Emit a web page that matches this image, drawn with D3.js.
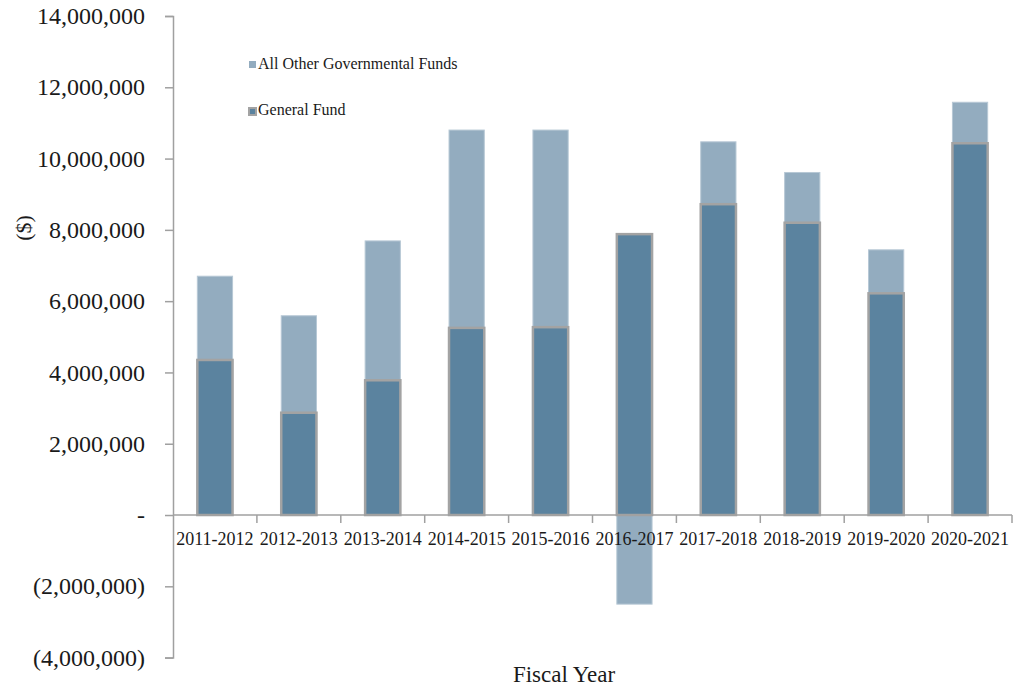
<!DOCTYPE html>
<html>
<head>
<meta charset="utf-8">
<script src="https://cdn.jsdelivr.net/npm/d3@7"></script>
<style>
  html, body { margin: 0; padding: 0; background: #fff; }
  svg { display: block; font-family: "Liberation Serif", "Times New Roman", serif; }
</style>
</head>
<body>
<svg id="chart" width="1015" height="689"></svg>
<script>
// Fiscal years on the x axis
const years = ["2011-2012", "2012-2013", "2013-2014", "2014-2015", "2015-2016",
               "2016-2017", "2017-2018", "2018-2019", "2019-2020", "2020-2021"];
// General Fund amounts ($)
const generalFund = [4350000, 2870000, 3780000, 5250000, 5270000,
                     7880000, 8720000, 8200000, 6220000, 10430000];
// All Other Governmental Funds amounts ($)
const otherFunds = [2350000, 2720000, 3910000, 5550000, 5530000,
                    -2500000, 1750000, 1410000, 1220000, 1150000];
// Y axis ticks
const yTicks = [-4000000, -2000000, 0, 2000000, 4000000, 6000000,
                8000000, 10000000, 12000000, 14000000];
const seriesNames = ["All Other Governmental Funds", "General Fund"];

const colors = { general: "#5b839f", other: "#93acbf" };

const svg = d3.select("#chart");
const x0 = 173, x1 = 1012, yTop = 16, yBottom = 657.6;

const x = d3.scaleBand().domain(years).range([x0, x1]).paddingInner(0.58).paddingOuter(0.29);
const y = d3.scaleLinear().domain([-4000000, 14000000]).range([yBottom, yTop]);

// stacked rows: general fund from zero, other funds on top (or below zero when negative)
const rows = years.map((yr, i) => ({ year: yr, gf: generalFund[i], other: otherFunds[i] }));

const gBars = svg.append("g");

// other funds
gBars.selectAll("rect.other").data(rows).join("rect")
  .attr("class", "other")
  .attr("x", d => x(d.year))
  .attr("width", x.bandwidth())
  .attr("y", d => d.other >= 0 ? y(d.gf + d.other) : y(0))
  .attr("height", d => d.other >= 0 ? y(d.gf) - y(d.gf + d.other) : y(d.other) - y(0))
  .attr("fill", colors.other)
  .attr("stroke", "#b7c8d5")
  .attr("stroke-width", 1);

// general fund
gBars.selectAll("rect.gf").data(rows).join("rect")
  .attr("class", "gf")
  .attr("x", d => x(d.year))
  .attr("width", x.bandwidth())
  .attr("y", d => y(d.gf))
  .attr("height", d => y(0) - y(d.gf))
  .attr("fill", colors.general)
  .attr("stroke", "#a3a3a3")
  .attr("stroke-width", 2.5);

// accounting-style number format
const fmt = v => v === 0 ? "-" : v < 0 ? "(" + d3.format(",")(-v) + ")" : d3.format(",")(v);

// y axis
const yAxis = svg.append("g")
  .attr("transform", `translate(${x0},0)`)
  .call(d3.axisLeft(y).tickValues(yTicks).tickFormat(fmt).tickSize(8).tickPadding(20));
yAxis.select(".domain").attr("stroke", "#a0a0a0").attr("stroke-width", 1.5);
yAxis.selectAll(".tick line").attr("stroke", "#a0a0a0").attr("stroke-width", 1.5);
yAxis.selectAll(".tick text")
  .attr("font-family", "Liberation Serif, serif")
  .attr("font-size", 24)
  .attr("fill", "#1a1a1a");

// x axis along zero, ticks at category boundaries
const gx = svg.append("g").attr("transform", `translate(0,${y(0)})`);
gx.append("line").attr("x1", x0).attr("x2", x1).attr("y1", 0).attr("y2", 0)
  .attr("stroke", "#a0a0a0").attr("stroke-width", 1.5);
const boundaries = d3.range(years.length + 1).map(i => x0 + i * (x1 - x0) / years.length);
gx.selectAll("line.tk").data(boundaries.slice(1)).join("line")
  .attr("class", "tk")
  .attr("x1", d => d).attr("x2", d => d).attr("y1", 0).attr("y2", 8)
  .attr("stroke", "#a0a0a0").attr("stroke-width", 1.5);
gx.selectAll("text").data(years).join("text")
  .attr("x", d => x(d) + x.bandwidth() / 2)
  .attr("y", 30)
  .attr("text-anchor", "middle")
  .attr("font-size", 18)
  .attr("fill", "#1a1a1a")
  .text(d => d);

// axis titles
svg.append("text")
  .attr("x", 564).attr("y", 682)
  .attr("text-anchor", "middle")
  .attr("font-size", 23)
  .attr("fill", "#1a1a1a")
  .text("Fiscal Year");

svg.append("text")
  .attr("transform", "translate(31,228) rotate(-90)")
  .attr("text-anchor", "middle")
  .attr("font-size", 22)
  .attr("fill", "#1a1a1a")
  .text("($)");

// legend
const legend = svg.append("g");
legend.append("rect").attr("x", 249).attr("y", 61).attr("width", 7).attr("height", 7)
  .attr("fill", colors.other);
legend.append("text").attr("x", 258).attr("y", 69).attr("font-size", 16)
  .attr("fill", "#1a1a1a").text(seriesNames[0]);
legend.append("rect").attr("x", 249).attr("y", 108).attr("width", 7).attr("height", 7)
  .attr("fill", colors.general).attr("stroke", "#a3a3a3").attr("stroke-width", 2);
legend.append("text").attr("x", 258).attr("y", 115).attr("font-size", 16)
  .attr("fill", "#1a1a1a").text(seriesNames[1]);
</script>
</body>
</html>
